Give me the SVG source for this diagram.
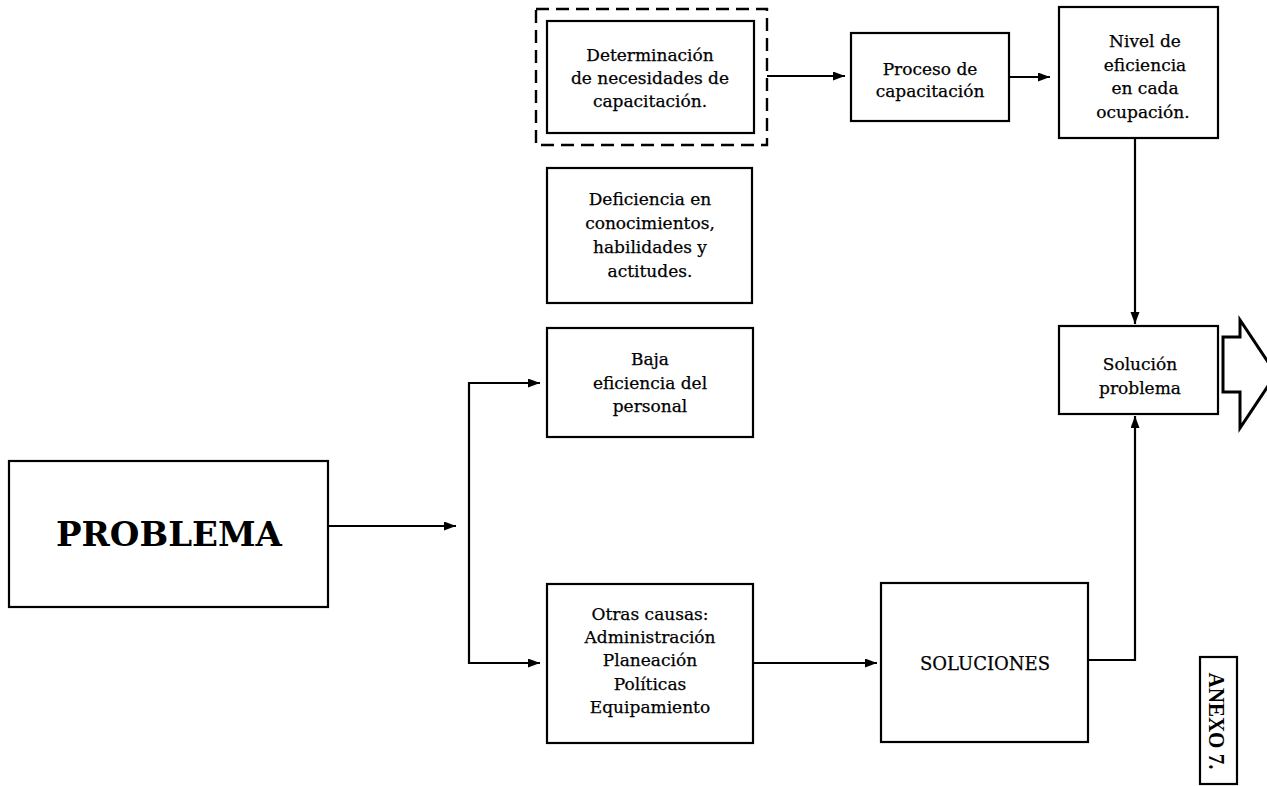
<svg xmlns="http://www.w3.org/2000/svg" width="1267" height="786" viewBox="0 0 1267 786">
<defs>
<style>
.box{fill:#fff;stroke:#000;stroke-width:2.2}
.dash{fill:none;stroke:#000;stroke-width:2.4;stroke-dasharray:13 7}
.t{font-family:"DejaVu Serif","Liberation Serif",serif;font-size:17px;fill:#000;stroke:#000;stroke-width:0.25;text-anchor:middle}
.big{font-family:"DejaVu Serif","Liberation Serif",serif;font-size:34px;font-weight:bold;fill:#000;text-anchor:middle}
.anexo{font-family:"Liberation Serif","DejaVu Serif",serif;font-size:24px;font-weight:bold;fill:#000;text-anchor:middle}
.c{fill:none;stroke:#000;stroke-width:2.2}
</style>
<marker id="ah" markerUnits="userSpaceOnUse" markerWidth="12" markerHeight="10" refX="12" refY="4.5" orient="auto">
<path d="M0,0 L12,4.5 L0,9 z" fill="#000"/>
</marker>
</defs>
<rect width="1267" height="786" fill="#fff"/>

<g id="connectors">
<line class="c" x1="767" y1="76" x2="845" y2="76" marker-end="url(#ah)"/>
<line class="c" x1="1009" y1="77" x2="1050" y2="77" marker-end="url(#ah)"/>
<line class="c" x1="1135" y1="138" x2="1135" y2="324" marker-end="url(#ah)"/>
<line class="c" x1="328" y1="526" x2="456" y2="526" marker-end="url(#ah)"/>
<path class="c" d="M540,383 H469 V663 H540" />
<line class="c" x1="469" y1="383" x2="540" y2="383" marker-end="url(#ah)"/>
<line class="c" x1="469" y1="663" x2="540" y2="663" marker-end="url(#ah)"/>
<line class="c" x1="753" y1="663" x2="877" y2="663" marker-end="url(#ah)"/>
<path class="c" d="M1088,660 H1135 V416" marker-end="url(#ah)"/>
<path d="M1223,337 H1240 V320 L1276,374 L1240,428 V392 H1223 Z" fill="#fff" stroke="#000" stroke-width="3"/>
</g>

<g id="n-determinacion">
<rect class="dash" x="536" y="9" width="231" height="136"/>
<rect class="box" x="547" y="21" width="207" height="112"/>
<text class="t" x="650" y="61">Determinación</text>
<text class="t" x="650" y="84">de necesidades de</text>
<text class="t" x="650" y="107">capacitación.</text>
</g>

<g id="n-proceso">
<rect class="box" x="851" y="33" width="158" height="88"/>
<text class="t" x="930" y="75">Proceso de</text>
<text class="t" x="930" y="97">capacitación</text>
</g>

<g id="n-nivel">
<rect class="box" x="1059" y="7" width="159" height="131"/>
<text class="t" x="1145" y="47">Nivel de</text>
<text class="t" x="1145" y="71">eficiencia</text>
<text class="t" x="1145" y="94">en cada</text>
<text class="t" x="1143" y="118">ocupación.</text>
</g>

<g id="n-deficiencia">
<rect class="box" x="547" y="168" width="205" height="135"/>
<text class="t" x="650" y="205">Deficiencia en</text>
<text class="t" x="650" y="229">conocimientos,</text>
<text class="t" x="650" y="253">habilidades y</text>
<text class="t" x="650" y="277">actitudes.</text>
</g>

<g id="n-baja">
<rect class="box" x="547" y="328" width="206" height="109"/>
<text class="t" x="650" y="365">Baja</text>
<text class="t" x="650" y="389">eficiencia del</text>
<text class="t" x="650" y="412">personal</text>
</g>

<g id="n-solucion">
<rect class="box" x="1059" y="326" width="159" height="88"/>
<text class="t" x="1140" y="370">Solución</text>
<text class="t" x="1140" y="394">problema</text>
</g>

<g id="n-problema">
<rect class="box" x="9" y="461" width="319" height="146"/>
<text class="big" x="169" y="546">PROBLEMA</text>
</g>

<g id="n-otras">
<rect class="box" x="547" y="584" width="206" height="159"/>
<text class="t" x="650" y="620">Otras causas:</text>
<text class="t" x="650" y="643">Administración</text>
<text class="t" x="650" y="666">Planeación</text>
<text class="t" x="650" y="690">Políticas</text>
<text class="t" x="650" y="713">Equipamiento</text>
</g>

<g id="n-soluciones">
<rect class="box" x="881" y="583" width="207" height="159"/>
<text class="t" x="985" y="670" style="font-size:18px">SOLUCIONES</text>
</g>

<g id="n-anexo">
<rect class="box" x="1200" y="657" width="37" height="127"/>
<text class="anexo" transform="translate(1209,721) rotate(90)" x="0" y="0" textLength="97" lengthAdjust="spacingAndGlyphs">ANEXO 7.</text>
</g>
</svg>
